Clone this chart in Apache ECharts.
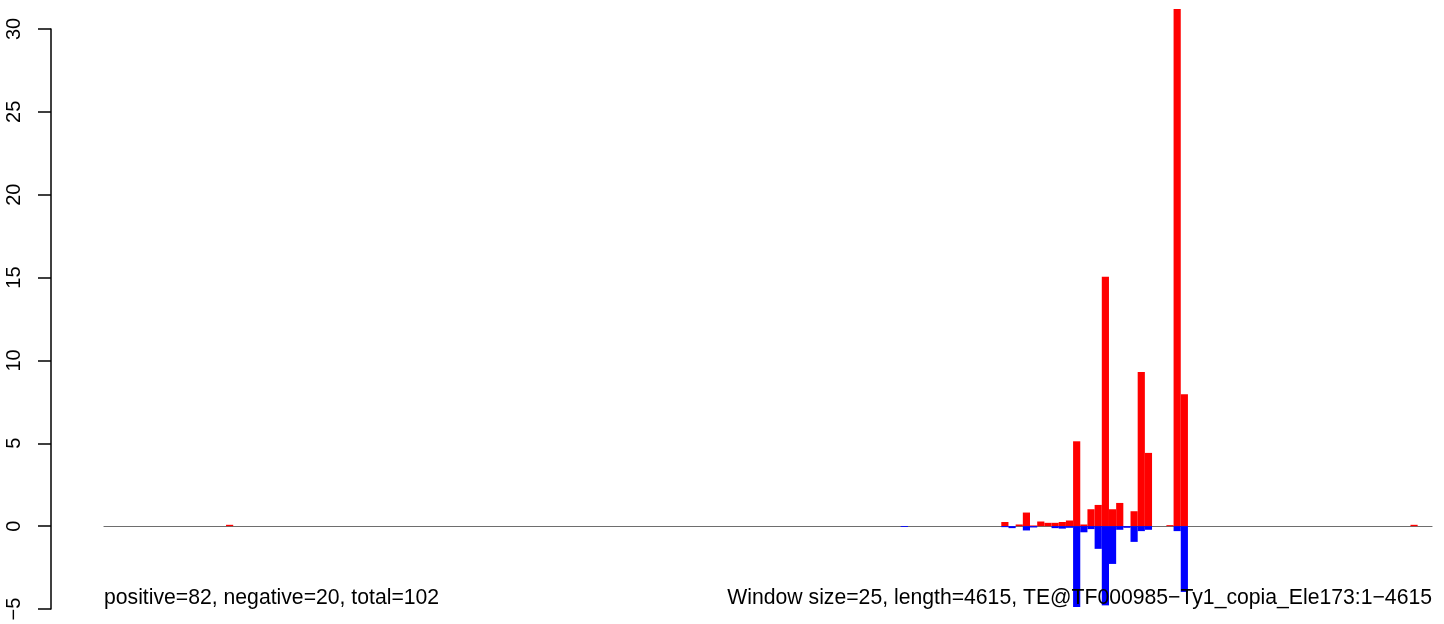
<!DOCTYPE html>
<html>
<head>
<meta charset="utf-8">
<script src="https://cdn.jsdelivr.net/npm/echarts@6/dist/echarts.min.js"></script>
<style>
html,body{margin:0;padding:0;background:#fff;}
#c{width:1444px;height:624px;}
</style>
</head>
<body>
<div id="c"></div>
<script>
// Number of windows (length 4615 / window size 25)
const nBins = 185;
// Positive (red) windows: bin index and value
const posBins = [17, 125, 127, 128, 129, 130, 131, 132, 133, 134, 135, 136, 137, 138, 139, 140, 141, 143, 144, 145, 148, 149, 150, 182];
const posVals = [0.08, 0.25, 0.1, 0.82, 0.04, 0.28, 0.2, 0.2, 0.25, 0.34, 5.12, 0.1, 1.02, 1.28, 15.05, 1.02, 1.4, 0.9, 9.3, 4.42, 0.06, 31.2, 7.96, 0.08];
// Negative (blue) windows: bin index and value
const negBins = [111, 125, 126, 128, 129, 132, 133, 134, 135, 136, 137, 138, 139, 140, 141, 142, 143, 144, 145, 149, 150];
const negVals = [-0.05, -0.06, -0.12, -0.26, -0.08, -0.12, -0.15, -0.1, -4.88, -0.37, -0.18, -1.37, -4.78, -2.28, -0.22, -0.1, -0.95, -0.3, -0.22, -0.3, -3.97];
// Y-axis ticks
const yTicks = [-5, 0, 5, 10, 15, 20, 25, 30];
const leftText = 'positive=82, negative=20, total=102';
const rightText = 'Window size=25, length=4615, TE@TF000985\u2212Ty1_copia_Ele173:1\u22124615';

const cats = [];
for (let i = 0; i < nBins; i++) cats.push(String(i + 1));
const pos = new Array(nBins).fill(0);
const neg = new Array(nBins).fill(0);
posBins.forEach((b, i) => { pos[b] = posVals[i]; });
negBins.forEach((b, i) => { neg[b] = negVals[i]; });

const FONT = '"Liberation Sans", Arial, Helvetica, sans-serif';
const chart = echarts.init(document.getElementById('c'), null, {renderer: 'canvas'});
chart.setOption({
  animation: false,
  backgroundColor: '#ffffff',
  grid: {left: 104, right: 12, top: 29, bottom: 15, containLabel: false},
  xAxis: {
    type: 'category',
    data: cats,
    boundaryGap: true,
    axisLine: {show: true, onZero: true, lineStyle: {color: '#6e6e6e', width: 1.2}},
    axisTick: {show: false},
    axisLabel: {show: false},
    splitLine: {show: false}
  },
  yAxis: {
    type: 'value',
    min: yTicks[0],
    max: yTicks[yTicks.length - 1],
    interval: 5,
    offset: 53,
    axisLine: {show: true, lineStyle: {color: '#000', width: 1.5}},
    axisTick: {show: true, length: 13, lineStyle: {color: '#000', width: 1.5}},
    axisLabel: {
      show: true, rotate: 90, margin: 27,
      color: '#000', fontSize: 20, fontFamily: FONT,
      formatter: v => (v < 0 ? '\u2212' + Math.abs(v) : String(v))
    },
    splitLine: {show: false}
  },
  series: [
    {
      type: 'bar', data: pos, barWidth: '100%', barGap: '-100%', clip: false,
      itemStyle: {color: '#ff0000'}, silent: true
    },
    {
      type: 'bar', data: neg, barWidth: '100%', barGap: '-100%', clip: false,
      itemStyle: {color: '#0000ff'}, silent: true
    }
  ],
  graphic: [
    {type: 'text', left: 104, top: 588, z: 100,
     style: {text: leftText, font: '21.2px ' + FONT, fill: '#000'}},
    {type: 'text', right: 12, top: 588, z: 100,
     style: {text: rightText, font: '21.2px ' + FONT, fill: '#000'}}
  ]
});
</script>
</body>
</html>
